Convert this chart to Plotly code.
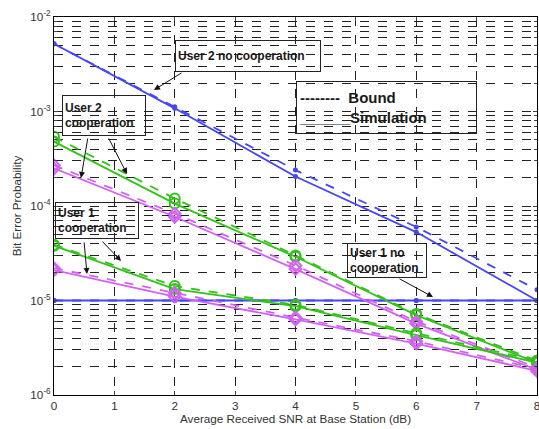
import plotly.graph_objects as go

snr = [0, 2, 4, 6, 8]

u2_nocoop_bound = [5.2e-3, 1.12e-3, 2.4e-4, 6.0e-5, 1.3e-5]
u2_nocoop_sim = [5.2e-3, 1.08e-3, 2.05e-4, 5.3e-5, 1.0e-5]
u1_nocoop_bound = [1e-5, 1e-5, 1e-5, 1e-5, 1e-5]
u1_nocoop_sim = [1e-5, 1e-5, 1e-5, 1e-5, 1e-5]

g_u2coop_bound = [5.4e-4, 1.2e-4, 3.0e-5, 7.2e-6, 2.3e-6]
g_u2coop_sim = [4.8e-4, 1.06e-4, 2.9e-5, 7.0e-6, 2.2e-6]
m_u2coop_bound = [2.7e-4, 8.3e-5, 2.35e-5, 6.0e-6, 1.95e-6]
m_u2coop_sim = [2.5e-4, 7.7e-5, 2.15e-5, 5.7e-6, 1.85e-6]

g_u1coop_bound = [3.9e-5, 1.42e-5, 9.0e-6, 4.5e-6, 2.3e-6]
g_u1coop_sim = [3.8e-5, 1.32e-5, 8.7e-6, 4.3e-6, 2.2e-6]
m_u1coop_bound = [2.2e-5, 1.2e-5, 6.6e-6, 3.7e-6, 1.9e-6]
m_u1coop_sim = [2.1e-5, 1.1e-5, 6.3e-6, 3.5e-6, 1.8e-6]

xticks = [0, 1, 2, 3, 4, 5, 6, 7, 8]
yticks = [1e-6, 1e-5, 1e-4, 1e-3, 1e-2]
yticklabels = ["10<sup>-6</sup>", "10<sup>-5</sup>", "10<sup>-4</sup>", "10<sup>-3</sup>", "10<sup>-2</sup>"]

BLUE = "#4646f5"
GREEN = "#33c219"
MAGENTA = "#d263f2"

fig = go.Figure()

def add(y, color, dash, symbol, size):
    fig.add_trace(go.Scatter(
        x=snr, y=y, mode="lines+markers",
        line=dict(color=color, width=1.8, dash=dash),
        marker=dict(symbol=symbol, size=size, color=color,
                    line=dict(color=color, width=2)),
        showlegend=False))

add(u2_nocoop_bound, BLUE, "dash", "circle", 3)
add(u2_nocoop_sim, BLUE, "solid", "circle", 3)
add(u1_nocoop_bound, BLUE, "dash", "circle", 3)
add(u1_nocoop_sim, BLUE, "solid", "circle", 3)
add(g_u2coop_bound, GREEN, "dash", "circle-open", 10)
add(g_u2coop_sim, GREEN, "solid", "circle-open", 10)
add(m_u2coop_bound, MAGENTA, "dash", "diamond-open", 9)
add(m_u2coop_sim, MAGENTA, "solid", "diamond-open", 9)
add(g_u1coop_bound, GREEN, "dash", "circle-open", 10)
add(g_u1coop_sim, GREEN, "solid", "circle-open", 10)
add(m_u1coop_bound, MAGENTA, "dash", "diamond-open", 9)
add(m_u1coop_sim, MAGENTA, "solid", "diamond-open", 9)

# pixel -> data helpers for annotation placement
L, R, T, B = 54, 537, 17, 395
def dx(px):
    return (px - L) / (R - L) * 8
def dy(py):
    return -2 - (py - T) / (B - T) * 4

FONT = "Liberation Sans, Arial, sans-serif"

def box(text, x0, y0, x1, y1, size=12):
    fig.add_annotation(
        x=dx((x0 + x1) / 2), y=dy((y0 + y1) / 2), xref="x", yref="y",
        text="<b>" + text + "</b>", showarrow=False, align="left",
        width=x1 - x0 - 6, height=y1 - y0 - 6,
        font=dict(family=FONT, size=size, color="#1a1a1a"),
        bgcolor="rgba(255,255,255,0)", bordercolor="#222222", borderwidth=1, borderpad=2)

def arrow(x0, y0, x1, y1):
    fig.add_annotation(
        x=dx(x1), y=dy(y1), ax=dx(x0), ay=dy(y0),
        xref="x", yref="y", axref="x", ayref="y",
        text="", showarrow=True, arrowhead=2, arrowsize=1.2,
        arrowwidth=1, arrowcolor="#111111")

box("User 2 no cooperation", 175, 40, 321, 72)
arrow(183, 72, 154, 90)

box("--------  Bound<br>______Simulation", 296, 81, 477, 134, size=15)

box("User 2<br>cooperation", 62, 95, 146, 136)
arrow(88, 137, 81, 178)
arrow(108, 137, 127, 174)

box("User 1<br>cooperation", 55, 202, 139, 239)
arrow(84, 241, 87, 274)
arrow(101, 240, 121, 261)

box("User 1 no<br>cooperation", 347, 243, 427, 278)
arrow(398, 278, 433, 297)

fig.update_layout(
    width=539, height=429,
    margin=dict(l=L, r=539 - R, t=T, b=429 - B, autoexpand=False),
    paper_bgcolor="white", plot_bgcolor="white",
    font=dict(family=FONT, size=11.7, color="#333333"),
    xaxis=dict(
        range=[0, 8], tickvals=xticks, ticks="inside", ticklen=4,
        ticklabeloverflow="allow",
        showgrid=True, gridcolor="#222222", griddash="dash", gridwidth=1,
        showline=True, linecolor="black", linewidth=1, mirror="allticks",
        zeroline=False,
        title=dict(text="Average Received SNR at Base Station (dB)", font=dict(size=11.7), standoff=1),
        tickfont=dict(size=11.7)),
    yaxis=dict(
        type="log", range=[-6, -2], tickvals=yticks, ticktext=yticklabels,
        ticks="inside", ticklen=4,
        showgrid=True, gridcolor="#222222", griddash="dash", gridwidth=1,
        showline=True, linecolor="black", linewidth=1, mirror="allticks",
        zeroline=False,
        minor=dict(ticks="inside", ticklen=3, showgrid=True, gridcolor="#222222",
                   griddash="dash", gridwidth=1,
                   tickvals=[m * 10 ** e for e in range(-6, -2) for m in range(2, 10)]),
        title=dict(text="Bit Error Probability", font=dict(size=11.7), standoff=6),
        tickfont=dict(size=11.7)),
)

fig.write_html("out.html", config={"displayModeBar": False},
               post_script="document.body.style.margin='0';")
